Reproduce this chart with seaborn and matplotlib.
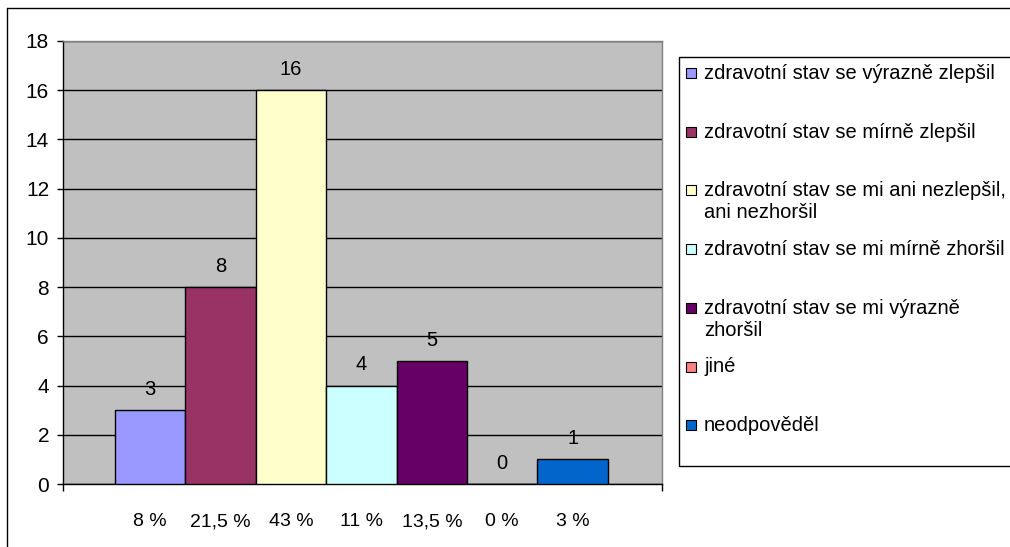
import matplotlib
matplotlib.use("Agg")
import matplotlib.pyplot as plt
from matplotlib.patches import Rectangle
from matplotlib.lines import Line2D
import seaborn as sns
import pandas as pd

# Survey answers: change of health state
categories = [
    "zdravotní stav se výrazně zlepšil",
    "zdravotní stav se mírně zlepšil",
    "zdravotní stav se mi ani nezlepšil,\nani nezhoršil",
    "zdravotní stav se mi mírně zhoršil",
    "zdravotní stav se mi výrazně\nzhoršil",
    "jiné",
    "neodpověděl",
]
counts = [3, 8, 16, 4, 5, 0, 1]
percent_labels = ["8 %", "21,5 %", "43 %", "11 %", "13,5 %", "0 %", "3 %"]
colors = ["#9999FF", "#993366", "#FFFFCC", "#CCFFFF", "#660066", "#FF8080", "#0066CC"]
y_ticks = [0, 2, 4, 6, 8, 10, 12, 14, 16, 18]

sns.set_theme(style="white")
plt.rcParams["font.family"] = ["Liberation Sans", "DejaVu Sans"]

W, H = 1010, 547
fig = plt.figure(figsize=(W / 100, H / 100), dpi=100)
fig.patch.set_facecolor("white")


def fx(x):
    return x / W


def fy(y):
    return 1 - y / H


ax = fig.add_axes([fx(63), fy(484), fx(662) - fx(63), fy(41) - fy(484)])
ax.set_facecolor("#C0C0C0")

df = pd.DataFrame({"kategorie": categories, "pocet": counts})
sns.barplot(data=df, x="kategorie", y="pocet", hue="kategorie", order=categories,
            hue_order=categories, palette=colors, saturation=1, width=1.0,
            edgecolor="black", linewidth=1.0, legend=False, ax=ax, zorder=3)

ax.set_xlim(-1.24, 7.27)
ax.set_ylim(0, 18)
ax.set_yticks(y_ticks)
ax.set_yticklabels([str(v) for v in y_ticks], fontsize=15, color="black")
ax.yaxis.grid(True, color="black", linewidth=1.0, zorder=0)
ax.set_axisbelow(True)
ax.tick_params(axis="y", direction="out", length=4.5, width=1, color="black", pad=5.5, left=True)

ax.set_xticks(range(len(categories)))
ax.set_xticklabels(percent_labels, fontsize=14, color="black")
ax.tick_params(axis="x", which="major", length=0, pad=21)
ax.set_xticks([-1.24, 7.27], minor=True)
ax.tick_params(axis="x", which="minor", direction="out", length=5, width=1, color="black", bottom=True)
ax.set_xlabel("")
ax.set_ylabel("")

for name in ["left", "bottom"]:
    ax.spines[name].set_color("black")
    ax.spines[name].set_linewidth(1.0)
for name in ["top", "right"]:
    ax.spines[name].set_color("#808080")
    ax.spines[name].set_linewidth(1.0)

# value labels above the bars
for i, v in enumerate(counts):
    ax.annotate(str(v), (i, v), xytext=(0, 8), textcoords="offset points",
                ha="center", va="bottom", fontsize=14.5, color="black")

# outer chart frame (top and left edges visible)
fig.add_artist(Line2D([fx(7), fx(7)], [fy(8), fy(H + 5)], transform=fig.transFigure,
                      color="black", linewidth=1.0))
fig.add_artist(Line2D([fx(7), fx(W + 5)], [fy(8), fy(8)], transform=fig.transFigure,
                      color="black", linewidth=1.0))

# legend box
fig.add_artist(Rectangle((fx(679), fy(466)), fx(W + 20) - fx(679), fy(57) - fy(466),
                         transform=fig.transFigure, facecolor="white",
                         edgecolor="black", linewidth=1.0))
for i, (name, col) in enumerate(zip(categories, colors)):
    yc = 73 + i * 58.7
    fig.add_artist(Rectangle((fx(686), fy(yc + 5)), fx(696) - fx(686), fy(yc - 5) - fy(yc + 5),
                             transform=fig.transFigure, facecolor=col,
                             edgecolor="black", linewidth=0.8))
    fig.text(fx(704), fy(yc - 9), name, fontsize=14.5, color="black", ha="left", va="top",
             linespacing=1.2)

fig.savefig("out.png", dpi=100)
